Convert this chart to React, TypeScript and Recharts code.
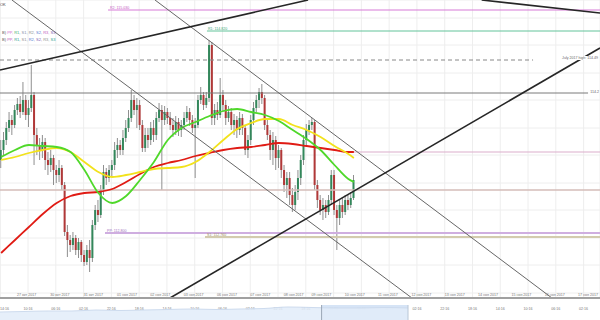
import React from 'react';
import {
  ComposedChart, AreaChart, Area, Bar, Line, XAxis, YAxis, CartesianGrid,
  ReferenceLine, ReferenceArea,
} from 'recharts';

// ---------- data ----------
const firstSlot = -5; // 2-hour slot of the first candle (slot 0 = 27 Oct 00:00)

const opens = [
  113.53, 113.63, 113.73, 113.85, 113.93,
  113.88, 114.03, 114.09, 114.01, 114.13, 113.98, 114.05, 114.18, 113.78, 113.68,
  113.63, 113.71, 113.53, 113.48, 113.55, 113.43, 113.38, 113.45, 113.28, 112.81,
  112.73, 112.68, 112.75, 112.63, 112.71, 112.58, 112.51, 112.63, 112.55, 112.88,
  113.03, 112.98, 113.23, 113.41, 113.35, 113.43, 113.48, 113.63, 113.68, 113.63,
  113.75, 113.85, 113.95, 114.13, 114.03, 114.08, 113.88, 113.65, 113.78, 113.73,
  113.85, 113.78, 113.95, 114.03, 113.93, 114.01, 113.95, 113.88, 113.83, 113.91,
  113.83, 113.88, 113.95, 114.01, 113.93, 113.85, 113.88, 114.13, 114.18, 114.08,
  114.15, 114.68, 113.95, 114.03, 113.98, 114.18, 114.08, 113.95, 114.01, 113.88,
  113.93, 113.83, 113.95, 113.85, 113.63, 113.73, 113.93, 114.05, 114.13, 114.21,
  114.15, 113.88, 113.78, 113.63, 113.73, 113.55, 113.63, 113.43, 113.28, 113.35,
  113.18, 113.08, 113.21, 113.35, 113.53, 113.73, 113.83, 113.88, 113.91, 113.28,
  113.13, 113.03, 113.08, 113.01, 113.13, 113.38, 113.03, 112.95, 113.08, 113.01,
  113.13, 113.08, 113.15,
];
const highs = [
  113.73, 113.81, 113.91, 114.01, 113.98,
  114.08, 114.15, 114.17, 114.31, 114.18, 114.13, 114.48, 114.21, 113.85, 113.75,
  113.78, 113.75, 113.61, 113.63, 113.58, 113.48, 113.53, 113.48, 113.31, 112.88,
  112.78, 112.81, 112.78, 112.75, 112.73, 112.63, 112.68, 112.73, 112.93, 113.08,
  113.13, 113.28, 113.48, 113.45, 113.48, 113.53, 113.71, 113.75, 113.73, 113.83,
  113.93, 114.03, 114.23, 114.18, 114.15, 114.13, 113.93, 113.85, 113.85, 113.91,
  113.93, 114.01, 114.10, 114.08, 114.07, 114.05, 114.01, 113.95, 113.97, 113.95,
  113.93, 114.01, 114.07, 114.05, 113.98, 113.95, 114.18, 114.26, 114.21, 114.21,
  114.73, 114.71, 114.09, 114.11, 114.35, 114.23, 114.13, 114.07, 114.05, 113.99,
  113.97, 114.01, 113.99, 113.88, 113.78, 113.98, 114.11, 114.18, 114.25, 114.29,
  114.18, 113.95, 113.83, 113.81, 113.77, 113.68, 113.65, 113.48, 113.41, 113.41,
  113.25, 113.28, 113.43, 113.58, 113.78, 113.89, 113.93, 113.95, 113.93, 113.33,
  113.18, 113.15, 113.13, 113.18, 113.43, 113.43, 113.08, 113.13, 113.15, 113.18,
  113.18, 113.21, 113.38,
];
const lows = [
  113.45, 113.58, 113.68, 113.81, 113.78,
  113.85, 113.98, 113.95, 113.98, 113.93, 113.86, 114.01, 113.48, 113.58, 113.53,
  113.55, 113.43, 113.38, 113.41, 113.28, 113.30, 113.31, 113.23, 112.77, 112.56,
  112.61, 112.63, 112.58, 112.55, 112.51, 112.47, 112.48, 112.41, 112.51, 112.83,
  112.91, 112.95, 113.18, 113.28, 113.31, 113.37, 113.43, 113.55, 113.58, 113.58,
  113.71, 113.81, 113.91, 113.98, 113.85, 113.83, 113.61, 113.61, 113.65, 113.68,
  113.71, 113.73, 113.91, 113.23, 113.88, 113.89, 113.83, 113.76, 113.78, 113.77,
  113.76, 113.83, 113.91, 113.87, 113.80, 113.35, 113.85, 114.09, 114.03, 114.05,
  114.11, 113.88, 113.88, 113.93, 113.95, 114.01, 113.88, 113.91, 113.83, 113.78,
  113.75, 113.78, 113.78, 113.58, 113.55, 113.68, 113.88, 114.01, 114.05, 114.09,
  113.83, 113.73, 113.53, 113.48, 113.43, 113.45, 113.35, 113.21, 113.15, 113.08,
  113.01, 113.03, 113.13, 113.28, 113.48, 113.68, 113.78, 113.83, 113.23, 113.05,
  112.98, 112.93, 112.95, 112.98, 113.08, 112.98, 112.63, 112.88, 112.95, 112.98,
  113.03, 113.05, 113.13,
];
const closes = [
  113.63, 113.73, 113.85, 113.93, 113.88,
  114.03, 114.09, 114.01, 114.13, 113.98, 114.05, 114.18, 113.78, 113.68, 113.63,
  113.71, 113.53, 113.48, 113.55, 113.43, 113.38, 113.45, 113.28, 112.81, 112.73,
  112.68, 112.75, 112.63, 112.71, 112.58, 112.51, 112.63, 112.55, 112.88, 113.03,
  112.98, 113.23, 113.41, 113.35, 113.43, 113.48, 113.63, 113.68, 113.63, 113.75,
  113.85, 113.95, 114.13, 114.03, 114.08, 113.88, 113.65, 113.78, 113.73, 113.85,
  113.78, 113.95, 114.03, 113.93, 114.01, 113.95, 113.88, 113.83, 113.91, 113.83,
  113.88, 113.95, 114.01, 113.93, 113.85, 113.88, 114.13, 114.18, 114.08, 114.15,
  114.68, 113.95, 114.03, 113.98, 114.18, 114.08, 113.95, 114.01, 113.88, 113.93,
  113.83, 113.95, 113.85, 113.63, 113.73, 113.93, 114.05, 114.13, 114.21, 114.15,
  113.88, 113.78, 113.63, 113.73, 113.55, 113.63, 113.43, 113.28, 113.35, 113.18,
  113.08, 113.21, 113.35, 113.53, 113.73, 113.83, 113.88, 113.91, 113.28, 113.13,
  113.03, 113.08, 113.01, 113.13, 113.38, 113.03, 112.95, 113.08, 113.01, 113.13,
  113.08, 113.15, 113.33,
];

// moving averages, sampled at these slots
const maSlots = [-5, 0, 5, 10, 15, 20, 25, 30, 35, 40, 45, 50, 55, 60, 65, 70, 75, 80, 85, 90, 95, 100, 105, 110, 115, 120, 122];
const greenMA = [113.56, 113.63, 113.68, 113.67, 113.66, 113.61, 113.43, 113.20, 113.10, 113.17, 113.33, 113.51, 113.73, 113.85, 113.91, 113.97, 114.02, 114.04, 114.01, 113.98, 113.92, 113.83, 113.74, 113.63, 113.48, 113.34, 113.31];
const yellowMA = [113.53, 113.56, 113.60, 113.63, 113.65, 113.61, 113.51, 113.41, 113.36, 113.38, 113.41, 113.44, 113.45, 113.46, 113.51, 113.61, 113.73, 113.84, 113.90, 113.94, 113.94, 113.88, 113.83, 113.76, 113.67, 113.59, 113.55];
const redMA = [112.60, 112.73, 112.86, 112.99, 113.10, 113.17, 113.20, 113.21, 113.24, 113.31, 113.39, 113.46, 113.50, 113.53, 113.57, 113.60, 113.63, 113.65, 113.66, 113.68, 113.70, 113.69, 113.67, 113.65, 113.63, 113.61, 113.61];

// axis
const xDomain = [-5.4, 210.6];
const yDomain = [112.15, 115.13];
const gridPrices = [114.95, 114.68, 114.40, 114.13, 113.85, 113.58, 113.30, 113.03, 112.75, 112.48, 112.20];
const timeTickSlots = [-5.3, 4.7, 14.7, 24.7, 34.7, 44.7, 54.7, 64.7, 74.7, 84.7, 94.7, 104.7, 114.7, 124.7, 134.7, 144.7, 154.7, 164.7, 174.7, 184.7, 194.7, 204.7];
const timeTickLabels = ['14:16', '10:16', '06:16', '02:16', '22:16', '18:16', '14:16', '10:16', '06:16', '02:16', '22:16', '18:16', '14:16', '10:16', '06:16', '02:16', '22:16', '18:16', '14:16', '10:16', '06:16', '02:16'];
const daySlots = [0, 12, 24, 36, 48, 60, 72, 84, 96, 106, 118, 130, 142, 154, 166, 178, 190, 202];
const dayLabels = ['27 окт 2017', '30 окт 2017', '31 окт 2017', '01 ноя 2017', '02 ноя 2017', '03 ноя 2017', '06 ноя 2017', '07 ноя 2017', '08 ноя 2017', '09 ноя 2017', '10 ноя 2017', '11 ноя 2017', '12 ноя 2017', '13 ноя 2017', '14 ноя 2017', '15 ноя 2017', '16 ноя 2017', '17 ноя 2017'];

// pivot levels
const pivotNames = ['R2', 'R1', 'PP', 'S1'];
const pivotValues = [115.03, 114.82, 112.80, 112.76];
const pivotStartSlots = [33.5, 69.1, 32.4, 68.4];

// key levels
const julyHigh = 114.53;
const julyHighText = 'July 2017 high: 114.49';
const level1142 = 114.2;
const lastMaLevel = 113.61;
const lastMaStart = 122;
const midLevel = 113.23;

// trend lines (slot, price)
const resistanceLine = [{ t: -5.4, p: 114.43 }, { t: 105.5, p: 115.13 }];
const topRightLine = [{ t: 168, p: 115.13 }, { t: 210.6, p: 115.0 }];
const channelLower = [{ t: -1.1, p: 115.13 }, { t: 142.9, p: 112.15 }];
const channelUpper = [{ t: 50.4, p: 115.13 }, { t: 193.3, p: 112.15 }];
const supportLine = [{ t: 55.8, p: 112.15 }, { t: 210.6, p: 114.65 }];

// navigator overview
const navValues = [8, 8.5, 9, 9, 10, 9.5, 10, 10.5, 11, 10.5, 11, 11.5, 13, 12.5, 12, 12, 12.5, 12];
const navWindow = [13.4, 17];

// ---------- build ----------
const candles = opens.map((o, i) => ({
  t: firstSlot + i,
  open: o,
  high: highs[i],
  low: lows[i],
  close: closes[i],
  range: [lows[i], highs[i]],
}));
const maData = maSlots.map((t, i) => ({ t, green: greenMA[i], yellow: yellowMA[i], red: redMA[i] }));
const navData = navValues.map((v, i) => ({ n: i, v }));

const Candle = (props: any) => {
  const { x, y, width, height, payload } = props;
  if (x == null || y == null) return null;
  const top = Math.min(y, y + height);
  const h = Math.abs(height);
  const span = payload.high - payload.low || 1;
  const yO = top + ((payload.high - payload.open) / span) * h;
  const yC = top + ((payload.high - payload.close) / span) * h;
  const up = payload.close >= payload.open;
  const cx = x + width / 2;
  const bTop = Math.min(yO, yC);
  const bH = Math.max(1, Math.abs(yO - yC));
  return (
    <g>
      <line x1={cx} x2={cx} y1={top} y2={top + h} stroke="#8f8f8f" strokeWidth={1} />
      <rect x={cx - 1} y={bTop} width={2} height={bH} fill={up ? '#33875b' : '#b13838'} />
    </g>
  );
};

const TimeTick = (props: any) => {
  const { x, y, payload } = props;
  const label = timeTickLabels[timeTickSlots.indexOf(payload.value)] ?? '';
  const atEdge = x < 6;
  return (
    <text x={atEdge ? 0 : x} y={y + 4} textAnchor={atEdge ? 'start' : 'middle'} fontSize={3.6} fill="#777" fontFamily="Liberation Sans">
      {label}
    </text>
  );
};

const seg = (a: { t: number; p: number }[]) => [{ x: a[0].t, y: a[0].p }, { x: a[1].t, y: a[1].p }];

const small: React.CSSProperties = {
  position: 'absolute', fontSize: '3.6px', lineHeight: '4px', whiteSpace: 'nowrap',
  fontFamily: '"Liberation Sans", Arial, sans-serif',
};

export default function App() {
  return (
    <div style={{ position: 'fixed', left: 0, top: 0, width: 600, height: 320, overflow: 'hidden', background: '#fff' }}>
      <ComposedChart width={600} height={320} data={candles} margin={{ top: 0, right: 0, bottom: 2, left: 0 }}>
        <CartesianGrid stroke="#eeeeee" strokeWidth={1} />
        <XAxis
          dataKey="t" type="number" domain={xDomain} allowDataOverflow ticks={timeTickSlots} interval={0}
          height={20} axisLine={{ stroke: '#a0a0a0', strokeWidth: 2 }} tickLine={false} tickMargin={2}
          tick={<TimeTick />}
        />
        <YAxis hide domain={yDomain} allowDataOverflow ticks={gridPrices} />

        {daySlots.map((d, i) => (
          <ReferenceLine key={'d' + i} x={d} stroke="transparent" ifOverflow="visible"
            label={{ value: dayLabels[i], position: 'insideBottomLeft', offset: 2, fontSize: 3.6, fill: '#777', fontFamily: 'Liberation Sans' }} />
        ))}

        <ReferenceLine y={midLevel} stroke="#d4bcb8" strokeWidth={1.5} ifOverflow="hidden" />
        <ReferenceLine segment={[{ x: lastMaStart, y: lastMaLevel }, { x: xDomain[1], y: lastMaLevel }]} stroke="#dcaecb" strokeWidth={1.2} ifOverflow="hidden" />
        <ReferenceLine segment={[{ x: pivotStartSlots[0], y: pivotValues[0] }, { x: xDomain[1], y: pivotValues[0] }]} stroke="#d77ad7" strokeWidth={1} ifOverflow="hidden" />
        <ReferenceLine segment={[{ x: pivotStartSlots[1], y: pivotValues[1] }, { x: xDomain[1], y: pivotValues[1] }]} stroke="#62c39a" strokeWidth={1} ifOverflow="hidden" />
        <ReferenceLine segment={[{ x: pivotStartSlots[2], y: pivotValues[2] }, { x: xDomain[1], y: pivotValues[2] }]} stroke="#cfaee0" strokeWidth={2} ifOverflow="hidden" />
        <ReferenceLine segment={[{ x: pivotStartSlots[3], y: pivotValues[3] }, { x: xDomain[1], y: pivotValues[3] }]} stroke="#d3cbae" strokeWidth={2} ifOverflow="hidden" />
        <ReferenceLine segment={[{ x: xDomain[0], y: julyHigh }, { x: 186.5, y: julyHigh }]} stroke="#888" strokeDasharray="4 3" strokeWidth={1} ifOverflow="hidden" />
        <ReferenceLine segment={[{ x: xDomain[0], y: level1142 }, { x: 206.3, y: level1142 }]} stroke="#7a7a7a" strokeWidth={1} ifOverflow="hidden" />

        <Bar dataKey="range" shape={Candle} barSize={2} isAnimationActive={false} />

        <Line data={maData} dataKey="red" type="monotone" stroke="#e01b14" strokeWidth={1.8} dot={false} activeDot={false} isAnimationActive={false} />
        <Line data={maData} dataKey="yellow" type="monotone" stroke="#f2e21c" strokeWidth={1.8} dot={false} activeDot={false} isAnimationActive={false} />
        <Line data={maData} dataKey="green" type="monotone" stroke="#4fd82a" strokeWidth={1.8} dot={false} activeDot={false} isAnimationActive={false} />

        <ReferenceLine segment={seg(channelLower)} stroke="#666" strokeWidth={1} ifOverflow="hidden" />
        <ReferenceLine segment={seg(channelUpper)} stroke="#666" strokeWidth={1} ifOverflow="hidden" />
        <ReferenceLine segment={seg(resistanceLine)} stroke="#262626" strokeWidth={1.6} ifOverflow="hidden" />
        <ReferenceLine segment={seg(topRightLine)} stroke="#262626" strokeWidth={1.6} ifOverflow="hidden" />
        <ReferenceLine segment={seg(supportLine)} stroke="#262626" strokeWidth={1.6} ifOverflow="hidden" />
      </ComposedChart>

      <div style={{ position: 'absolute', left: 0, top: 305 }}>
        <AreaChart width={600} height={15} data={navData} margin={{ top: 0, right: 0, bottom: 0, left: 0 }}>
          <XAxis hide dataKey="n" type="number" domain={[0, 25]} allowDataOverflow />
          <YAxis hide domain={[0, 15]} allowDataOverflow />
          <ReferenceArea x1={navWindow[0]} x2={navWindow[1]} y1={0} y2={15} fill="#d2e1f5" fillOpacity={0.9} stroke="none" ifOverflow="hidden" />
          <Area dataKey="v" type="monotone" stroke="#cddbee" fill="#e2ecf9" fillOpacity={0.85} activeDot={false} isAnimationActive={false} />
          <ReferenceLine x={navWindow[0]} stroke="#9aa6b5" strokeWidth={1} />
          <ReferenceLine x={navWindow[1]} stroke="#b9c6d6" strokeWidth={1} />
        </AreaChart>
      </div>

      {/* texts */}
      <div style={{ ...small, left: 0, top: 3, color: '#444', fontSize: '4px' }}>OK</div>
      <div style={{ ...small, left: 2, top: 31, fontSize: '4px', color: '#555' }}>
        B) <span style={{ color: '#d070d0' }}>PP,</span> <span style={{ color: '#3fb070' }}>R1,</span> <span style={{ color: '#8090a8' }}>S1,</span> <span style={{ color: '#909090' }}>R2,</span> <span style={{ color: '#5a7ad0' }}>S2,</span> <span style={{ color: '#c060c0' }}>R3,</span> <span style={{ color: '#8060b0' }}>S3</span>
      </div>
      <div style={{ ...small, left: 2, top: 38, fontSize: '4px', color: '#555' }}>
        B) <span style={{ color: '#c060c0' }}>PP,</span> <span style={{ color: '#30a090' }}>R1,</span> <span style={{ color: '#909090' }}>S1,</span> <span style={{ color: '#5a7ad0' }}>R2,</span> <span style={{ color: '#8060b0' }}>S2,</span> <span style={{ color: '#909090' }}>R3,</span> <span style={{ color: '#30a090' }}>S3</span>
      </div>
      <div style={{ ...small, left: 110, top: 6, color: '#c35ac3' }}>{pivotNames[0]}: {pivotValues[0].toFixed(3)}</div>
      <div style={{ ...small, left: 208, top: 27, color: '#3aa878' }}>{pivotNames[1]}: {pivotValues[1].toFixed(3)}</div>
      <div style={{ ...small, left: 107, top: 229, color: '#a070c0' }}>{pivotNames[2]}: {pivotValues[2].toFixed(3)}</div>
      <div style={{ ...small, left: 207, top: 233, color: '#9a9060' }}>{pivotNames[3]}: {pivotValues[3].toFixed(3)}</div>
      <div style={{ ...small, right: 2, top: 56, color: '#666', background: '#fff', paddingLeft: 1 }}>{julyHighText}</div>
      <div style={{ ...small, right: 1, top: 90, color: '#666', background: '#fff', paddingLeft: 1 }}>{level1142.toFixed(1)}</div>
    </div>
  );
}
